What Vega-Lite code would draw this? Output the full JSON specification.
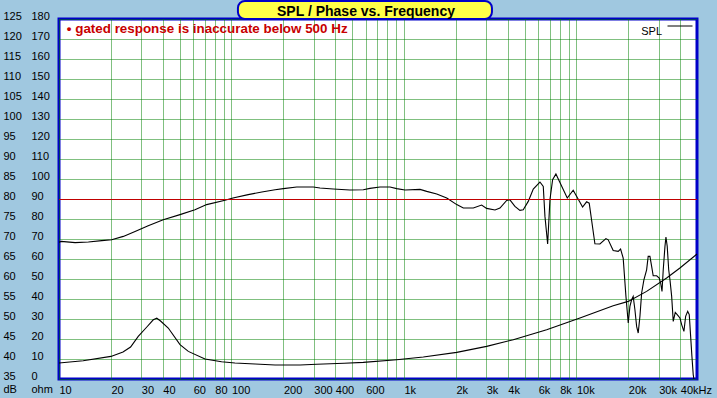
{
  "$schema": "https://vega.github.io/schema/vega-lite/v6.json",
  "width": 638,
  "height": 360,
  "autosize": {"type": "none"},
  "padding": {"left": 59, "top": 19, "right": 20, "bottom": 19},
  "background": "#a0c8e0",
  "title": {"text": "SPL / Phase vs. Frequency", "anchor": "middle", "frame": "group", "dx": -12, "dy": 21, "offset": 2, "fontSize": 14, "fontWeight": "bold", "font": "Liberation Sans", "color": "black", "zindex": 1},
  "config": {
    "view": {"fill": "white", "stroke": "#0000c8", "strokeWidth": 3},
    "font": "Liberation Sans",
    "axis": {"domain": false, "ticks": false, "tickSize": 0, "tickCount": 100, "labelFont": "Liberation Sans", "labelFontSize": 11, "labelColor": "black", "titleFont": "Liberation Sans", "titleFontSize": 11, "titleFontWeight": "normal", "titleColor": "black", "gridColor": "#008000", "gridDash": [1, 1], "gridOpacity": 1, "gridWidth": 1, "labelOverlap": false, "labelFlush": false}
  },
  "datasets": {
    "spl": [
      {"f": 10, "db": 69.2}, {"f": 10.3, "db": 69.4}, {"f": 12.4, "db": 69.1}, {"f": 14.8, "db": 69.25}, {"f": 17.7, "db": 69.6},
      {"f": 20.2, "db": 69.8}, {"f": 23.6, "db": 70.65}, {"f": 27.6, "db": 71.9}, {"f": 32.9, "db": 73.3}, {"f": 40.2, "db": 74.8},
      {"f": 50.3, "db": 76.1}, {"f": 61.4, "db": 77.3}, {"f": 71.8, "db": 78.6}, {"f": 91.7, "db": 79.7}, {"f": 102, "db": 80.25},
      {"f": 125, "db": 81.1}, {"f": 150, "db": 81.75}, {"f": 179, "db": 82.3}, {"f": 200, "db": 82.6}, {"f": 239, "db": 83.0},
      {"f": 298, "db": 83.0}, {"f": 326, "db": 82.75}, {"f": 389, "db": 82.5}, {"f": 486, "db": 82.25}, {"f": 581, "db": 82.3},
      {"f": 635, "db": 82.65}, {"f": 726, "db": 83.0}, {"f": 830, "db": 83.0}, {"f": 907, "db": 82.6}, {"f": 1014, "db": 82.25},
      {"f": 1239, "db": 82.4}, {"f": 1355, "db": 81.9}, {"f": 1549, "db": 81.25}, {"f": 1770, "db": 80.25}, {"f": 2023, "db": 78.6},
      {"f": 2209, "db": 77.75}, {"f": 2524, "db": 77.75}, {"f": 2820, "db": 78.5}, {"f": 3015, "db": 77.65}, {"f": 3371, "db": 77.25},
      {"f": 3603, "db": 77.75}, {"f": 3939, "db": 79.65}, {"f": 4114, "db": 79.8}, {"f": 4399, "db": 78.15}, {"f": 4702, "db": 77.15},
      {"f": 4915, "db": 77.3}, {"f": 5255, "db": 79.4}, {"f": 5619, "db": 82.5}, {"f": 6143, "db": 84.25}, {"f": 6422, "db": 83.15},
      {"f": 6568, "db": 75.65}, {"f": 6808, "db": 68.75}, {"f": 7020, "db": 79.8}, {"f": 7275, "db": 84.8}, {"f": 7603, "db": 86.25},
      {"f": 8845, "db": 80.25}, {"f": 9576, "db": 82.2}, {"f": 10855, "db": 78.0}, {"f": 11455, "db": 79.3}, {"f": 11860, "db": 78.95},
      {"f": 12795, "db": 68.8}, {"f": 13680, "db": 68.75}, {"f": 14825, "db": 70.1}, {"f": 15280, "db": 69.8}, {"f": 16335, "db": 67.1},
      {"f": 17465, "db": 66.9}, {"f": 18030, "db": 67.5}, {"f": 18665, "db": 65.2}, {"f": 19365, "db": 55.65}, {"f": 19965, "db": 49.0},
      {"f": 20420, "db": 53.15}, {"f": 20890, "db": 54.8}, {"f": 21330, "db": 55.65}, {"f": 21830, "db": 52.3}, {"f": 22330, "db": 48.15},
      {"f": 22810, "db": 46.5}, {"f": 23340, "db": 50.65}, {"f": 23880, "db": 56.5}, {"f": 24610, "db": 59.8}, {"f": 25520, "db": 62.3},
      {"f": 26060, "db": 65.65}, {"f": 26670, "db": 65.65}, {"f": 27290, "db": 63.15}, {"f": 27860, "db": 60.8}, {"f": 29170, "db": 60.8},
      {"f": 30200, "db": 60.25}, {"f": 30770, "db": 59.0}, {"f": 31340, "db": 56.9}, {"f": 31860, "db": 62.3}, {"f": 32600, "db": 68.15},
      {"f": 33030, "db": 70.5}, {"f": 33600, "db": 68.15}, {"f": 34270, "db": 62.3}, {"f": 34850, "db": 59.8}, {"f": 35650, "db": 55.65},
      {"f": 36410, "db": 49.4}, {"f": 37400, "db": 51.65}, {"f": 38390, "db": 51.1}, {"f": 39810, "db": 50.25}, {"f": 40740, "db": 48.6},
      {"f": 41990, "db": 46.9}, {"f": 42960, "db": 50.65}, {"f": 44160, "db": 51.9}, {"f": 45090, "db": 51.1}, {"f": 45930, "db": 45.65},
      {"f": 46720, "db": 40.65}, {"f": 47540, "db": 36.1}, {"f": 47990, "db": 35}
    ],
    "imp": [
      {"f": 10, "ohm": 8.0}, {"f": 13.8, "ohm": 9.1}, {"f": 20, "ohm": 11.3}, {"f": 23.5, "ohm": 13.5}, {"f": 26, "ohm": 16},
      {"f": 28.8, "ohm": 21.3}, {"f": 32.3, "ohm": 26}, {"f": 35.2, "ohm": 29.6}, {"f": 36.9, "ohm": 30.4}, {"f": 38.8, "ohm": 29},
      {"f": 43.0, "ohm": 25.5}, {"f": 50.3, "ohm": 17.2}, {"f": 56.2, "ohm": 13.8}, {"f": 70.2, "ohm": 10.0}, {"f": 87.6, "ohm": 8.65},
      {"f": 104.7, "ohm": 8.0}, {"f": 137, "ohm": 7.5}, {"f": 179, "ohm": 7.0}, {"f": 250, "ohm": 7.0}, {"f": 312, "ohm": 7.4},
      {"f": 450, "ohm": 7.9}, {"f": 581, "ohm": 8.3}, {"f": 907, "ohm": 9.65}, {"f": 1295, "ohm": 11.0}, {"f": 2023, "ohm": 13.3},
      {"f": 3015, "ohm": 16.3}, {"f": 4303, "ohm": 19.65}, {"f": 6719, "ohm": 24.65}, {"f": 10475, "ohm": 30.5}, {"f": 16335, "ohm": 36.65},
      {"f": 19965, "ohm": 38.8}, {"f": 25520, "ohm": 43.8}, {"f": 33340, "ohm": 50.5}, {"f": 39810, "ohm": 55.5}, {"f": 50000, "ohm": 62.5}
    ]
  },
  "layer": [
    {
      "layer": [
        {
          "data": {"name": "spl"},
          "mark": {"type": "line", "strokeWidth": 1.1},
          "encoding": {
            "x": {"field": "f", "type": "quantitative", "scale": {"type": "log", "domain": [10, 50000], "nice": false},
              "axis": {
                "title": null, "grid": true, "labelAlign": "left", "labelBaseline": "middle", "labelPadding": 11, "tickCount": 100,
                "values": [10, 20, 30, 40, 50, 60, 70, 80, 90, 100, 200, 300, 400, 500, 600, 700, 800, 900, 1000, 2000, 3000, 4000, 5000, 6000, 7000, 8000, 9000, 10000, 20000, 30000, 40000],
                "labelExpr": "datum.value == 40000 ? '40kHz' : (indexof([10,20,30,40,60,80,100,200,300,400,600,1000,2000,3000,4000,6000,8000,10000,20000,30000], datum.value) >= 0 ? (datum.value >= 1000 ? (datum.value / 1000) + 'k' : '' + datum.value) : '')"
              }
            },
            "y": {"field": "db", "type": "quantitative", "scale": {"domain": [35, 125], "nice": false, "zero": false},
              "axis": {
                "orient": "left", "grid": true, "tickCount": 100,
                "values": [35, 40, 45, 50, 55, 60, 65, 70, 75, 80, 85, 90, 95, 100, 105, 110, 115, 120, 125],
                "gridOpacity": {"condition": {"test": "datum.value === 80", "value": 0}, "value": 1},
                "labelAlign": "left", "labelBaseline": "middle", "labelPadding": 56, "labelOffset": -3,
                "title": "dB", "titleX": -56, "titleY": 370, "titleAngle": 0, "titleAlign": "left", "titleBaseline": "middle"
              }
            },
            "color": {"datum": "SPL", "type": "nominal", "scale": {"domain": ["SPL"], "range": ["#000000"]},
              "legend": {"orient": "none", "legendX": 608, "legendY": -6, "title": null, "symbolType": "stroke", "symbolSize": 625, "symbolStrokeWidth": 1, "labelAlign": "right", "labelOffset": -31, "labelBaseline": "top", "labelFontSize": 11, "labelFont": "Liberation Sans", "labelColor": "black", "padding": 0}
            }
          }
        },
        {
          "data": {"values": [{}]},
          "mark": {"type": "rule", "color": "#c00000", "strokeWidth": 1, "yOffset": 0.5},
          "encoding": {
            "y": {"datum": 80, "type": "quantitative", "scale": {"domain": [35, 125], "nice": false, "zero": false}}
          }
        },
        {
          "data": {"values": [{}]},
          "mark": {"type": "rect", "fill": "#ffff48", "stroke": "#0000c8", "strokeWidth": 2, "cornerRadius": 7},
          "encoding": {
            "x": {"datum": 109, "type": "quantitative", "scale": {"type": "log", "domain": [10, 50000], "nice": false}},
            "x2": {"datum": 3237},
            "y": {"datum": 129.5, "type": "quantitative", "scale": {"domain": [35, 125], "nice": false, "zero": false}},
            "y2": {"datum": 125}
          }
        },
        {
          "data": {"values": [{}]},
          "mark": {"type": "text", "align": "left", "baseline": "middle", "font": "Liberation Sans", "fontSize": 13.4, "fontWeight": "bold", "color": "#c80000"},
          "encoding": {
            "x": {"datum": 11.1, "type": "quantitative", "scale": {"type": "log", "domain": [10, 50000], "nice": false}},
            "y": {"datum": 122.5, "type": "quantitative", "scale": {"domain": [35, 125], "nice": false, "zero": false}},
            "text": {"value": "• gated response is inaccurate below 500 Hz"}
          }
        }
      ]
    },
    {
      "data": {"name": "imp"},
      "mark": {"type": "line", "color": "black", "strokeWidth": 1.1},
      "encoding": {
        "x": {"field": "f", "type": "quantitative", "scale": {"type": "log", "domain": [10, 50000], "nice": false}},
        "y": {"field": "ohm", "type": "quantitative", "scale": {"domain": [0, 180], "nice": false, "zero": false},
          "axis": {
            "orient": "left", "grid": false, "tickCount": 100,
            "values": [0, 10, 20, 30, 40, 50, 60, 70, 80, 90, 100, 110, 120, 130, 140, 150, 160, 170, 180],
            "labelAlign": "left", "labelBaseline": "middle", "labelPadding": 28, "labelOffset": -3,
            "title": "ohm", "titleX": -28, "titleY": 370, "titleAngle": 0, "titleAlign": "left", "titleBaseline": "middle"
          }
        }
      }
    }
  ],
  "resolve": {"scale": {"y": "independent"}, "axis": {"y": "independent"}}
}
